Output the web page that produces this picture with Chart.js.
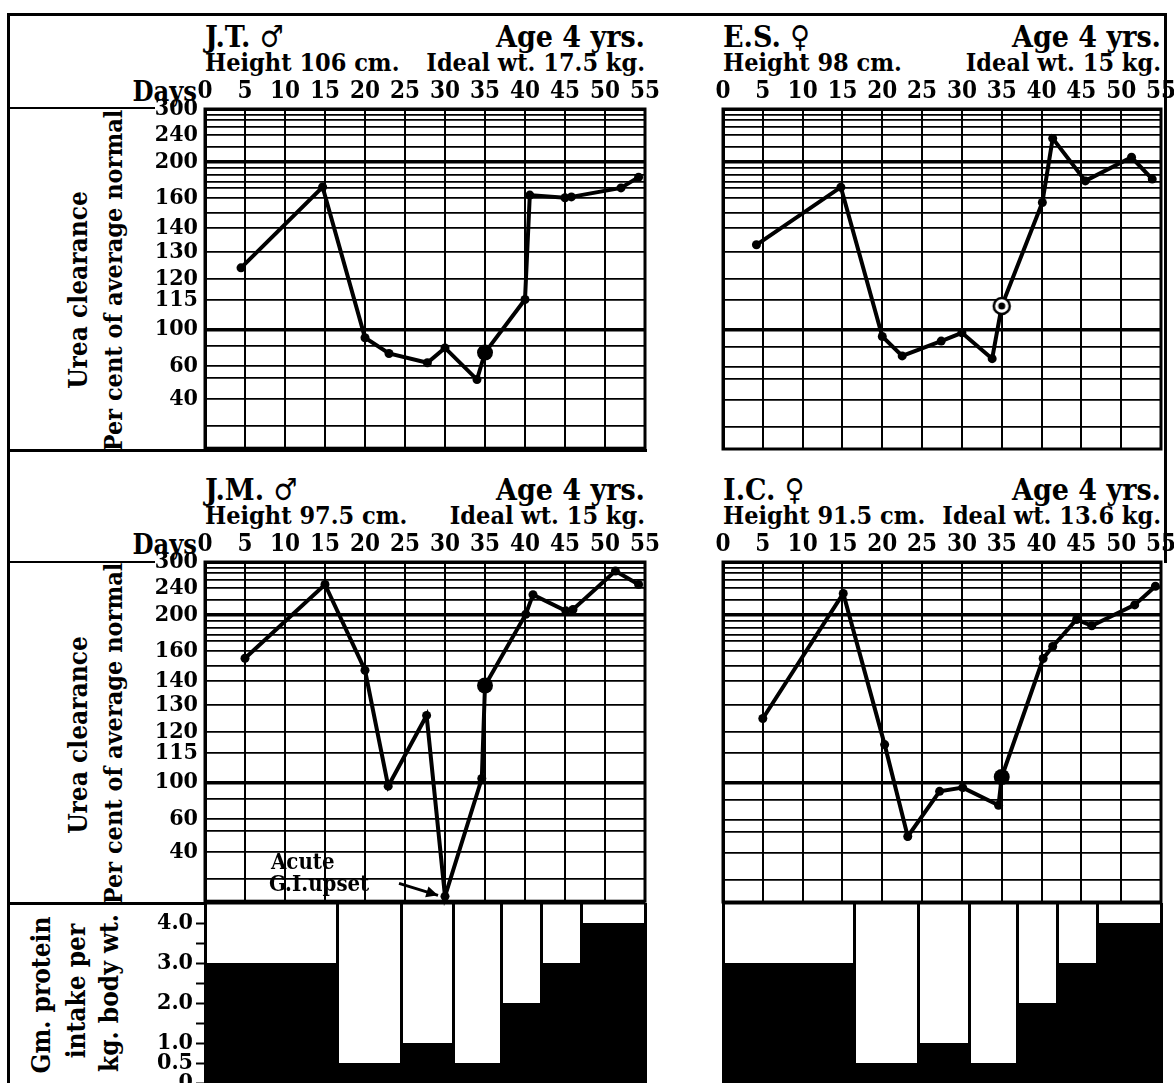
<!DOCTYPE html>
<html>
<head>
<meta charset="utf-8"/>
<title>Urea clearance and protein intake</title>
<script src="https://cdn.jsdelivr.net/npm/chart.js@4/dist/chart.umd.min.js"></script>
<style>
body { margin:0; width:1174px; height:1083px; overflow:hidden; background:#fff; position:relative;
  font-family:'DejaVu Serif Condensed','DejaVu Serif',serif; font-weight:bold; color:#000; }
canvas { position:absolute; }
.ln { position:absolute; background:#000; }
.t { position:absolute; white-space:nowrap; line-height:1; }
.vt { position:absolute; width:500px; white-space:nowrap; line-height:1; text-align:center; transform:rotate(-90deg); transform-origin:center; }
</style>
</head>
<body>
<script>
// ---- data ----
const DAYS_JT = [4.5, 14.7, 20, 23, 27.8, 30, 34, 35, 40, 40.6, 45, 45.8, 52, 54.2];
const UREA_JT = [124, 172, 91, 74, 64, 80, 52, 75, 115, 163, 160, 161, 171, 183];

const DAYS_ES = [4.2, 14.8, 20, 22.5, 27.4, 30, 33.8, 35, 40.1, 41.4, 45.5, 51.3, 53.9];
const UREA_ES = [133, 172, 93, 72, 88, 97, 69, 112, 157, 235, 179, 207, 181];

const DAYS_JM = [5, 15, 20, 22.9, 27.7, 30, 34.6, 35, 40.1, 41, 45.1, 46, 51.3, 54.2];
const UREA_JM = [155, 248, 147, 96, 126, 13, 102, 138, 201, 230, 206, 208, 279, 248];

const DAYS_IC = [5, 15.1, 20.3, 23.2, 27.2, 30.1, 34.6, 35, 40.2, 41.4, 44.4, 46.3, 51.7, 54.3];
const UREA_IC = [125, 232, 117, 50, 91, 95, 76, 103, 155, 165, 195, 188, 215, 244];

const MARKED_DAY = 35;      // large dot
const GI_UPSET_DAY = 30;    // J.M. annotation

const UREA_TICKS = [40, 60, 100, 115, 120, 130, 140, 160, 200, 240, 300];
const UREA_MINOR = [10, 23.5, 53, 82, 150, 171, 178, 186, 193, 222, 258, 274, 286];
const DAY_MAX = 55;

const PROTEIN_FROM = [0, 16.5, 24.5, 31, 37, 42, 47];
const PROTEIN_TO = 55;
const PROTEIN_JM = [3.0, 0.5, 1.0, 0.5, 2.0, 3.0, 4.0];
const PROTEIN_IC = [3.0, 0.5, 1.0, 0.5, 2.0, 3.0, 4.0];
const PROTEIN_TICKS = [0, 0.5, 1, 2, 3, 4];

// ---- the printed, uneven urea scale ----
const KNOTS = [[10, 0], [40, 49], [60, 82], [100, 119], [115, 149], [120, 170],
  [130, 197], [140, 221], [160, 251], [200, 287], [240, 314], [300, 340]];
const KNOT_TOP = 340;

function ureaFrac(v) {
  if (v <= KNOTS[0][0]) return 0;
  for (let i = 1; i < KNOTS.length; i++) {
    if (v <= KNOTS[i][0]) {
      const [v0, p0] = KNOTS[i - 1], [v1, p1] = KNOTS[i];
      return (p0 + (v - v0) / (v1 - v0) * (p1 - p0)) / KNOT_TOP;
    }
  }
  return 1;
}
function fracUrea(f) {
  const p = f * KNOT_TOP;
  for (let i = 1; i < KNOTS.length; i++) {
    if (p <= KNOTS[i][1]) {
      const [v0, p0] = KNOTS[i - 1], [v1, p1] = KNOTS[i];
      return v0 + (p - p0) / (p1 - p0) * (v1 - v0);
    }
  }
  return 300;
}

class UreaScale extends Chart.LinearScale {
  getPixelForValue(v) { return this.getPixelForDecimal(ureaFrac(v)); }
  getValueForPixel(px) { return fracUrea(this.getDecimalForPixel(px)); }
}
UreaScale.id = 'urea';
UreaScale.defaults = Chart.LinearScale.defaults;
Chart.register(UreaScale);

const FONT = "'DejaVu Serif Condensed', 'DejaVu Serif', serif";
Chart.defaults.font.family = FONT;
Chart.defaults.font.weight = 'bold';
Chart.defaults.color = '#000';

function makeCanvas(left, top, w, h) {
  const c = document.createElement('canvas');
  c.width = w; c.height = h;
  c.style.left = left + 'px'; c.style.top = top + 'px';
  c.style.width = w + 'px'; c.style.height = h + 'px';
  document.body.appendChild(c);
  return c;
}

function line(x, y, w, h) {
  const d = document.createElement('div');
  d.className = 'ln';
  d.style.cssText = `left:${x}px;top:${y}px;width:${w}px;height:${h}px`;
  document.body.appendChild(d);
}

function txt(s, x, base, size, align) {
  const d = document.createElement('div');
  d.className = 't';
  d.textContent = s;
  d.style.fontSize = size + 'px';
  d.style.top = (base - 0.846 * size) + 'px';
  if (align === 'right') d.style.right = (1174 - x) + 'px';
  else d.style.left = x + 'px';
  document.body.appendChild(d);
}

function vtxt(s, cx, cy, size) {
  const d = document.createElement('div');
  d.className = 'vt';
  d.textContent = s;
  d.style.fontSize = size + 'px';
  d.style.left = (cx - 250) + 'px';
  d.style.top = (cy - size / 2) + 'px';
  document.body.appendChild(d);
}

const frame = {
  id: 'frame',
  afterDraw(chart) {
    const a = chart.chartArea, ctx = chart.ctx;
    ctx.save();
    ctx.strokeStyle = '#000';
    ctx.lineWidth = 3;
    ctx.strokeRect(a.left, a.top, a.right - a.left, a.bottom - a.top);
    ctx.restore();
  }
};

const ringDot = (() => {
  const c = document.createElement('canvas');
  c.width = 22; c.height = 22;
  const g = c.getContext('2d');
  g.beginPath(); g.arc(11, 11, 8, 0, Math.PI * 2);
  g.fillStyle = '#fff'; g.fill();
  g.lineWidth = 2.5; g.strokeStyle = '#000'; g.stroke();
  g.beginPath(); g.arc(11, 11, 3.5, 0, Math.PI * 2);
  g.fillStyle = '#000'; g.fill();
  return c;
})();

const giNote = {
  id: 'giNote',
  afterDatasetsDraw(chart) {
    const p = chart.getDatasetMeta(0).data[DAYS_JM.indexOf(GI_UPSET_DAY)];
    const ctx = chart.ctx;
    ctx.save();
    ctx.fillStyle = '#000'; ctx.strokeStyle = '#000';
    ctx.font = 'bold 22px ' + FONT;
    ctx.textBaseline = 'alphabetic';
    ctx.fillText('Acute', p.x - 174, p.y - 27);
    ctx.fillText('G.I.upset', p.x - 176, p.y - 5);
    const x0 = p.x - 46, y0 = p.y - 13, x1 = p.x - 7, y1 = p.y - 1;
    ctx.lineWidth = 3;
    ctx.beginPath(); ctx.moveTo(x0, y0); ctx.lineTo(x1, y1); ctx.stroke();
    const a = Math.atan2(y1 - y0, x1 - x0);
    ctx.beginPath();
    ctx.moveTo(x1, y1);
    ctx.lineTo(x1 - 13 * Math.cos(a - 0.45), y1 - 13 * Math.sin(a - 0.45));
    ctx.lineTo(x1 - 13 * Math.cos(a + 0.45), y1 - 13 * Math.sin(a + 0.45));
    ctx.closePath(); ctx.fill();
    ctx.restore();
  }
};

function ureaChart(gl, gt, gw, days, urea, opt) {
  const AXW = opt.labels ? 100 : 20, AXH = 45, PR = 25, PB = 20, GH = 340;
  const cv = makeCanvas(gl - AXW, gt - AXH, AXW + gw + PR, AXH + GH + PB);
  const isMarked = ctx => days[ctx.dataIndex] === MARKED_DAY;
  return new Chart(cv, {
    type: 'line',
    data: {
      datasets: [{
        data: days.map((d, i) => ({ x: d, y: urea[i] })),
        borderColor: '#000',
        borderWidth: 4,
        pointBackgroundColor: '#000',
        pointBorderColor: '#000',
        pointBorderWidth: 0,
        pointRadius: ctx => isMarked(ctx) ? 8 : 4.5,
        pointStyle: ctx => (opt.ring && isMarked(ctx)) ? ringDot : 'circle',
        tension: 0,
        clip: false
      }]
    },
    options: {
      responsive: false,
      animation: false,
      layout: { padding: { left: 0, top: 0, right: PR, bottom: PB } },
      plugins: { legend: { display: false }, tooltip: { enabled: false } },
      scales: {
        x: {
          type: 'linear', position: 'top', min: 0, max: DAY_MAX,
          ticks: { stepSize: 5, autoSkip: false, maxRotation: 0, padding: 3,
            font: { size: 24 } },
          grid: { color: '#000', lineWidth: 2, drawTicks: false },
          border: { color: '#000', width: 3 },
          afterFit: s => { s.height = AXH; }
        },
        y: {
          type: 'urea', min: 10, max: 300,
          afterBuildTicks: s => {
            s.ticks = UREA_MINOR.concat(UREA_TICKS).sort((a, b) => a - b).map(v => ({ value: v }));
          },
          ticks: { display: opt.labels, autoSkip: false, padding: 7, font: { size: 23 },
            callback: v => UREA_TICKS.includes(v) ? String(v) : '' },
          grid: { color: '#000', drawTicks: false,
            lineWidth: c => (c.tick && (c.tick.value === 100 || c.tick.value === 200)) ? 3.5 : 1.8 },
          border: { color: '#000', width: 3 },
          afterFit: s => { s.width = AXW; }
        }
      }
    },
    plugins: opt.note ? [frame, giNote] : [frame]
  });
}

function proteinChart(gl, gw, values, labels) {
  const AXW = labels ? 100 : 20, PT = 20, PB = 25, GH = 180, GT = 903;
  const cv = makeCanvas(gl - AXW, GT - PT, AXW + gw + 5, PT + GH + PB);
  const pts = PROTEIN_FROM.map((d, i) => ({ x: d, y: values[i] }));
  pts.push({ x: PROTEIN_TO, y: values[values.length - 1] });
  return new Chart(cv, {
    type: 'line',
    data: {
      datasets: [{
        data: pts, stepped: true, fill: 'origin',
        backgroundColor: '#000', borderWidth: 0, pointRadius: 0
      }]
    },
    options: {
      responsive: false,
      animation: false,
      layout: { padding: { left: 0, top: PT, right: 5, bottom: PB } },
      plugins: { legend: { display: false }, tooltip: { enabled: false } },
      scales: {
        x: {
          type: 'linear', min: 0, max: PROTEIN_TO,
          afterBuildTicks: s => {
            s.ticks = PROTEIN_FROM.concat([PROTEIN_TO]).map(v => ({ value: v }));
          },
          ticks: { display: false },
          grid: { color: '#000', lineWidth: 3, drawTicks: false },
          border: { display: false },
          afterFit: s => { s.height = 0; }
        },
        y: {
          min: 0, max: 4.5,
          ticks: { display: labels, stepSize: 0.5, autoSkip: false, padding: 3,
            font: { size: 23 },
            callback: v => PROTEIN_TICKS.includes(v) ? (v === 0 ? '0' : v.toFixed(1)) : '' },
          grid: { drawOnChartArea: false, drawTicks: labels, tickLength: 9,
            tickColor: '#000', tickWidth: 2 },
          border: { color: '#000', width: 3 },
          afterFit: s => { s.width = AXW; }
        }
      }
    },
    plugins: [{
      id: 'topRule',
      afterDraw(chart) {
        const a = chart.chartArea, ctx = chart.ctx;
        ctx.save();
        ctx.fillStyle = '#000';
        ctx.fillRect(a.left, a.top - 1.5, a.right - a.left, 3);
        ctx.restore();
      }
    }]
  });
}

// ---- outer frame and rules ----
line(7, 13, 1160, 3);
line(7, 13, 3, 1070);
line(1164, 13, 3, 550);
line(7, 107, 148, 2);
line(7, 449, 640, 3);
line(7, 561, 148, 2);
line(7, 902, 200, 3);

// ---- panel headings ----
function heading(gl, gr, gt, who, height, ideal, days) {
  txt(who, gl, gt - 62, 30, 'left');
  txt('Age 4 yrs.', gr, gt - 62, 30, 'right');
  txt(height, gl, gt - 38, 25, 'left');
  txt(ideal, gr, gt - 38, 25, 'right');
  if (days) txt('Days', gl - 8, gt - 8, 27, 'right');
}
heading(205, 645, 109, 'J.T.  \u2642', 'Height  106 cm.', 'Ideal wt. 17.5 kg.', true);
heading(723, 1161, 109, 'E.S.  \u2640', 'Height  98 cm.', 'Ideal wt. 15 kg.', false);
heading(205, 645, 562, 'J.M. \u2642', 'Height  97.5 cm.', 'Ideal wt. 15 kg.', true);
heading(723, 1161, 562, 'I.C.  \u2640', 'Height  91.5 cm.', 'Ideal wt. 13.6 kg.', false);

vtxt('Urea  clearance', 78, 290, 26);
vtxt('Per cent of average normal', 113, 280, 25);
vtxt('Urea  clearance', 78, 735, 26);
vtxt('Per cent of average normal', 113, 733, 25);
vtxt('Gm. protein', 41, 995, 26);
vtxt('intake per', 76, 991, 26);
vtxt('kg. body wt.', 109, 993, 26);

// ---- charts ----
ureaChart(205, 109, 440, DAYS_JT, UREA_JT, { labels: true });
ureaChart(723, 109, 438, DAYS_ES, UREA_ES, { labels: false, ring: true });
ureaChart(205, 562, 440, DAYS_JM, UREA_JM, { labels: true, note: true });
ureaChart(723, 562, 438, DAYS_IC, UREA_IC, { labels: false });
proteinChart(205, 440, PROTEIN_JM, true);
proteinChart(723, 438, PROTEIN_IC, false);
</script>
</body>
</html>
